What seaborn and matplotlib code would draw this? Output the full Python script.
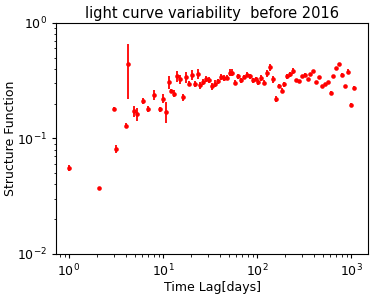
import numpy as np
import pandas as pd
import matplotlib
matplotlib.use("Agg")
import matplotlib.pyplot as plt
import seaborn as sns

# Structure function values.
time_lag = [1.0, 2.1, 3.0, 3.2, 4.0, 4.27, 4.9, 5.3, 6.08, 7.0, 8.1, 9.3, 10.0, 10.7,
            11.5, 12.3, 13.2, 14.2, 15.3, 16.3, 17.6, 18.8, 20.2, 21.7, 23.4, 24.9,
            26.9, 28.9, 30.9, 33.2, 35.7, 38.2, 41.1, 44.2, 47.6, 51.2, 54.6, 58.7,
            63.2, 67.6, 72.7, 78.3, 83.6, 90, 96.8, 103, 111, 120, 128, 137, 147,
            158, 170, 183, 195, 210, 224, 241, 260, 280, 299, 321, 346, 369, 397,
            427, 457, 490, 528, 565, 608, 649, 698, 751, 809, 863, 929, 1000, 1069]
sf = [0.0555, 0.037, 0.18, 0.081, 0.129, 0.44, 0.172, 0.162, 0.21, 0.18, 0.238, 0.178,
      0.221, 0.17, 0.307, 0.257, 0.244, 0.344, 0.326, 0.226, 0.339, 0.298, 0.356, 0.298,
      0.363, 0.288, 0.305, 0.326, 0.322, 0.282, 0.298, 0.313, 0.34, 0.335, 0.335, 0.37,
      0.37, 0.303, 0.344, 0.318, 0.34, 0.356, 0.344, 0.318, 0.329, 0.307, 0.333, 0.303,
      0.367, 0.413, 0.324, 0.22, 0.284, 0.259, 0.294, 0.344, 0.36, 0.382, 0.318, 0.313,
      0.344, 0.356, 0.324, 0.358, 0.38, 0.305, 0.34, 0.284, 0.295, 0.305, 0.249, 0.344,
      0.405, 0.442, 0.356, 0.284, 0.377, 0.195, 0.273]
sf_err = [0.003, 0.001, 0.006, 0.006, 0.006, 0.22, 0.02, 0.02, 0.012, 0.012, 0.025, 0.01,
          0.02, 0.035, 0.04, 0.012, 0.018, 0.035, 0.03, 0.015, 0.035, 0.015, 0.035, 0.018,
          0.035, 0.02, 0.018, 0.02, 0.02, 0.02, 0.02, 0.015, 0.02, 0.02, 0.015, 0.025,
          0.025, 0.015, 0.015, 0.015, 0.015, 0.018, 0.015, 0.015, 0.012, 0.015, 0.018,
          0.015, 0.025, 0.03, 0.025, 0.012, 0.012, 0.012, 0.015, 0.018, 0.018, 0.02, 0.01,
          0.008, 0.008, 0.008, 0.008, 0.008, 0.008, 0.007, 0.008, 0.007, 0.008, 0.008,
          0.006, 0.008, 0.01, 0.01, 0.008, 0.008, 0.018, 0.006, 0.008]

df = pd.DataFrame({"lag": time_lag, "sf": sf, "err": sf_err})

# Plain matplotlib-like look: black text, ticks and frame.
sns.set_style("ticks", {"axes.edgecolor": "black", "text.color": "black",
                        "axes.labelcolor": "black", "xtick.color": "black",
                        "ytick.color": "black"})
plt.rcParams["font.family"] = ["DejaVu Sans"]

fig = plt.figure(figsize=(3.74, 2.95), dpi=100)
ax = fig.add_axes([0.150, 0.139, 0.834, 0.784])

# Error bars first, then the dots on top.
ax.errorbar(df["lag"], df["sf"], yerr=df["err"], fmt="none", ecolor="red", elinewidth=1.3)
sns.scatterplot(data=df, x="lag", y="sf", color="red", s=11, linewidth=0, ax=ax)

ax.set_xscale("log")
ax.set_yscale("log")
ax.set_xlim(0.73, 1515)
ax.set_ylim(0.01, 1)

ax.set_title("light curve variability  before 2016", fontsize=10.5, pad=3.5)
ax.set_xlabel("Time Lag[days]", fontsize=9, labelpad=1)
ax.set_ylabel("Structure Function", fontsize=9, labelpad=0)
ax.tick_params(labelsize=9, length=3, width=0.8)
ax.tick_params(which="minor", length=1.8, width=0.6)
for sp in ax.spines.values():
    sp.set_linewidth(0.8)

fig.savefig("out.png", dpi=100)
